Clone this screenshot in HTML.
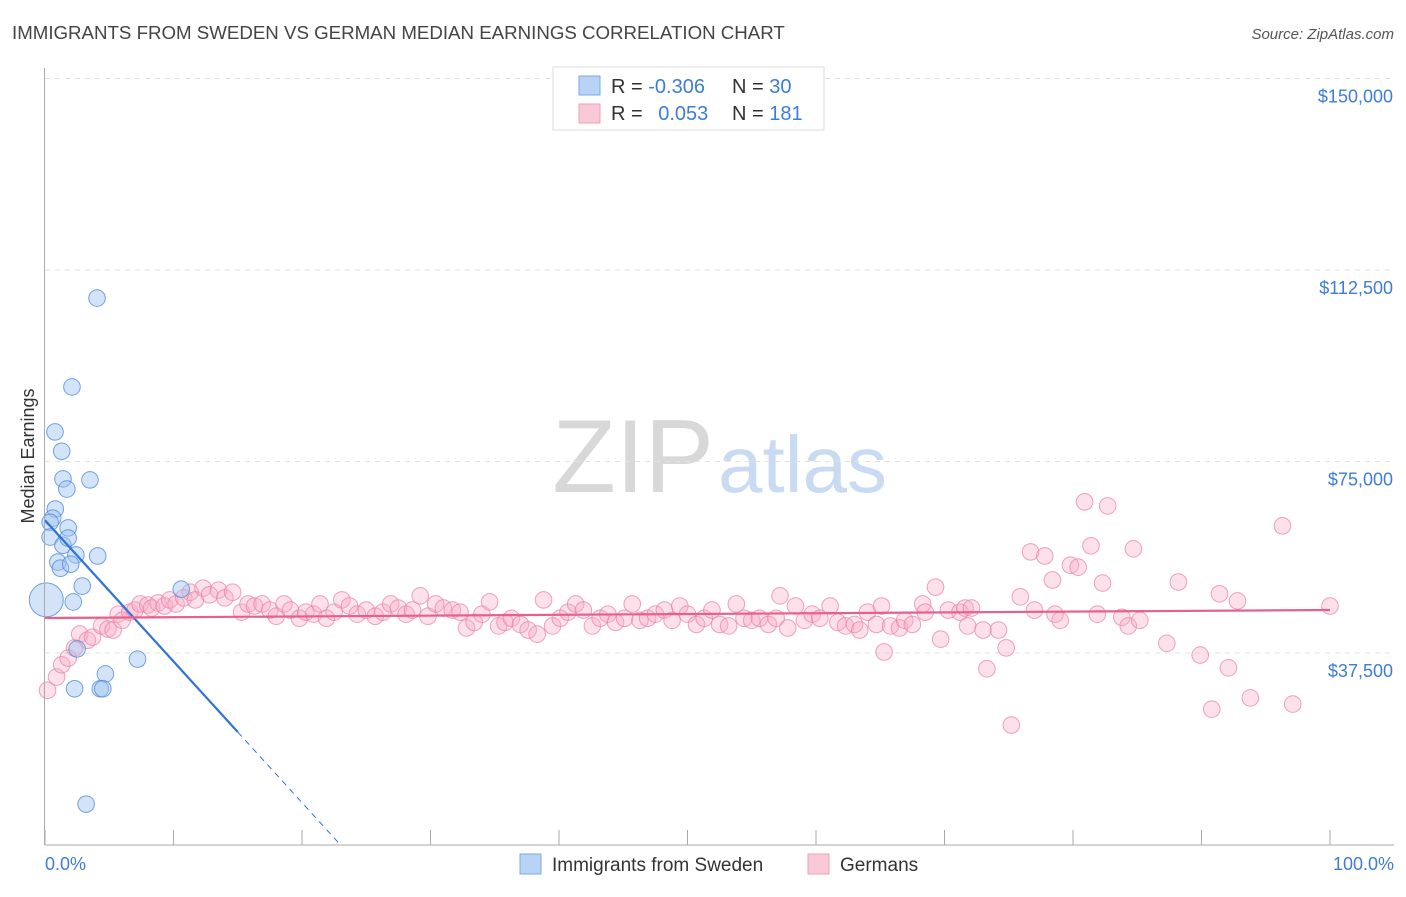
<!DOCTYPE html>
<html><head><meta charset="utf-8"><style>
body{margin:0;background:#fff;font-family:"Liberation Sans",sans-serif}
svg text{font-family:"Liberation Sans",sans-serif}
</style></head><body>
<svg id="c" width="1406" height="892" viewBox="0 0 1406 892" xmlns="http://www.w3.org/2000/svg">
<text x="12" y="39" font-size="18.7" fill="#444">IMMIGRANTS FROM SWEDEN VS GERMAN MEDIAN EARNINGS CORRELATION CHART</text>
<text x="1394" y="39" font-size="15" fill="#555" font-style="italic" text-anchor="end">Source: ZipAtlas.com</text>
<text x="714" y="492" font-size="104" fill="#d8d8d8" text-anchor="end" font-family="Liberation Serif">ZIP</text>
<text x="718" y="492" font-size="80" fill="#c9dbf2">atlas</text>
<g id="grid"></g><g id="pts"></g><g id="trend"></g><g id="axes"></g>
<text transform="translate(34,456) rotate(-90)" font-size="18" fill="#333" text-anchor="middle">Median Earnings</text>
<g>
<rect x="553" y="67" width="271" height="63" fill="#fff" stroke="#ddd"/>
<rect x="579" y="76" width="21" height="19" fill="#b9d3f5" stroke="#7aa8e8"/>
<rect x="579" y="104" width="21" height="19" fill="#fac9d8" stroke="#f0a0b8"/>
<text x="611" y="93" font-size="20" fill="#333">R = <tspan fill="#3d7dd8">-0.306</tspan></text>
<text x="732" y="93" font-size="20" fill="#333">N = <tspan fill="#3d7dd8"> 30</tspan></text>
<text x="611" y="120" font-size="20" fill="#333">R = <tspan fill="#3d7dd8" dx="10">0.053</tspan></text>
<text x="732" y="120" font-size="20" fill="#333">N = <tspan fill="#3d7dd8">181</tspan></text>
</g>
<g>
<rect x="520" y="854" width="21" height="20" fill="#b9d3f5" stroke="#7aa8e8"/>
<text x="552" y="871" font-size="19" fill="#333">Immigrants from Sweden</text>
<rect x="808" y="854" width="21" height="20" fill="#fac9d8" stroke="#f0a0b8"/>
<text x="840" y="871" font-size="19" fill="#333">Germans</text>
</g>
<text x="45" y="870" font-size="18" fill="#3d7dd8">0.0%</text>
<text x="1394" y="870" font-size="18" fill="#3d7dd8" text-anchor="end">100.0%</text>
</svg>
<script>
const yTicks=[37500,75000,112500,150000];
const yTickLabels=["$37,500","$75,000","$112,500","$150,000"];
const xTicks=[0,10,20,30,40,50,60,70,80,90,100];
const swedenX=[4.05,2.1,0.78,1.3,1.4,3.5,1.7,0.8,0.6,0.4,1.8,0.4,1.4,2.4,4.1,1.0,1.2,2.0,2.9,10.6,0.1,2.2,2.5,7.2,4.7,2.3,4.3,4.5,3.2,1.8];
const swedenY=[107000,89600,80800,77000,71600,71400,69600,65700,63900,63100,62000,60200,58600,56700,56500,55300,54100,54900,50600,50000,47900,47500,38300,36300,33400,30500,30500,30500,7900,60000];
const germanX=[0.2,0.9,1.3,1.8,2.3,2.7,3.3,3.7,4.4,4.9,5.3,5.7,6,6.6,7,7.4,8,8.3,8.8,9.3,9.7,10.2,10.8,11.3,11.7,12.3,12.8,13.5,14,14.6,15.3,15.8,16.3,16.9,17.5,18,18.6,19.1,19.8,20.3,20.9,21.4,21.9,22.5,23.1,23.7,24.3,25,25.7,26.3,26.9,27.5,28.1,28.6,29.2,29.8,30.4,31,31.7,32.3,32.8,33.4,34,34.6,35.3,35.8,36.3,37,37.6,38.3,38.8,39.5,40.1,40.7,41.3,41.9,42.6,43.2,43.8,44.4,45.1,45.7,46.3,46.9,47.5,48.2,48.8,49.4,50,50.7,51.3,51.9,52.5,53.2,53.8,54.4,55,55.6,56.3,56.9,57.2,57.8,58.4,59.1,59.7,60.3,61.1,61.7,62.3,63,63.4,64,64.7,65.1,65.3,65.8,66.5,66.9,67.5,68.3,68.5,69.3,69.7,70.3,71.2,71.6,71.8,72.1,73,73.3,74.2,74.8,75.2,75.9,76.7,77,77.8,78.4,78.6,79,79.8,80.4,80.9,81.4,81.9,82.3,82.7,83.8,84.3,84.7,85.2,87.3,88.2,89.9,90.8,91.4,92.1,92.8,93.8,96.3,97.1,100];
const germanY=[30.2,32.8,35.2,36.5,38.5,41.2,40,40.6,42.8,42.2,42,45.1,43.9,45.5,45.9,47.1,46.9,46.3,47.3,46.7,47.9,47.1,48.3,49.4,47.9,50.2,48.9,49.8,48.3,49.4,45.5,47.1,46.7,47.1,45.9,44.7,47.1,45.9,44.3,45.5,45.1,47.1,44.3,45.5,47.9,46.7,45.1,45.9,44.7,45.5,47.1,46.3,45.1,45.9,48.7,44.7,47.1,46.3,45.9,45.5,42.4,43.5,45.1,47.5,42.8,43.5,44.3,43.1,42,41.2,47.9,42.8,44.3,45.5,47.1,45.9,42.8,44.3,45.1,43.5,44.3,47.1,43.9,44.3,45.1,45.9,43.9,46.7,45.1,43.1,44.3,45.9,43.1,42.8,47.1,44.3,43.9,44.3,43.1,44.3,48.7,42.4,46.7,43.9,45.1,44.3,46.7,43.5,42.8,43.1,42,45.5,43.1,46.7,37.7,42.8,42.4,43.9,43.1,47.1,45.5,50.4,40.2,45.9,45.5,46.3,42.8,46.3,42,34.4,42,38.5,23.4,48.5,57.3,45.9,56.5,51.8,45.1,43.9,54.7,54.3,67.1,58.5,45.1,51.2,66.3,44.5,42.8,57.9,43.9,39.4,51.4,37.1,26.5,49.1,34.6,47.7,28.7,62.4,27.5,46.7];
const NS="http://www.w3.org/2000/svg";
const X0=45,X1=1330,YB=844.5,PXV=191.5/37500;
function xs(p){return X0+(X1-X0)*p/100;}
function ys(v){return YB-v*PXV;}
function mk(t,a,p){const e=document.createElementNS(NS,t);for(const k in a)e.setAttribute(k,a[k]);p.appendChild(e);return e;}
const grid=document.getElementById('grid'),axes=document.getElementById('axes'),pts=document.getElementById('pts'),tr=document.getElementById('trend');
yTicks.forEach((v,i)=>{
 const l=mk('line',{x1:45,x2:1394,y1:ys(v),y2:ys(v),stroke:'#e2e2e2','stroke-dasharray':'5,5'},grid);
 
 
 const t=mk('text',{x:1393,y:ys(v)+24,'font-size':18,fill:'#3d7dd8','text-anchor':'end'},axes);
 t.textContent=yTickLabels[i];
 
 
});
const ax=mk('line',{x1:45,x2:1394,y1:845,y2:845,stroke:'#aaa'},axes);


const ay=mk('line',{x1:44.5,x2:44.5,y1:68,y2:845,stroke:'#aaa'},axes);


xTicks.forEach(p=>{
 const t=mk('line',{x1:xs(p),x2:xs(p),y1:845,y2:830,stroke:'#aaa'},axes);
 
 
});
germanX.forEach((p,i)=>{
 const c=mk('circle',{cx:xs(p),cy:ys(germanY[i]*1000),r:8.3,fill:'rgba(246,170,196,0.35)',stroke:'rgba(236,130,165,0.75)','stroke-width':1},pts);
 
 
});
swedenX.forEach((p,i)=>{
 const big=(i===20);
 const c=mk('circle',{cx:xs(p),cy:ys(swedenY[i]),r:big?17:8.3,fill:'rgba(160,196,240,0.45)',stroke:'rgba(80,140,220,0.8)','stroke-width':1},pts);
 
 
});
const swInt=63500,swSlope=-2765,swSolidEnd=15;
const swZero=-swInt/swSlope;
const s1=mk('line',{x1:xs(0),y1:ys(swInt),x2:xs(swSolidEnd),y2:ys(swInt+swSlope*swSolidEnd),stroke:'#2f74d6','stroke-width':2.2},tr);


const s2=mk('line',{x1:xs(swSolidEnd),y1:ys(swInt+swSlope*swSolidEnd),x2:xs(swZero),y2:ys(0),stroke:'#2f74d6','stroke-width':1,'stroke-dasharray':'6,5'},tr);


const gInt=44350,gEnd=45920;
const g=mk('line',{x1:xs(0),y1:ys(gInt),x2:xs(100),y2:ys(gEnd),stroke:'#e8608a','stroke-width':2.2},tr);


</script>
</body></html>
